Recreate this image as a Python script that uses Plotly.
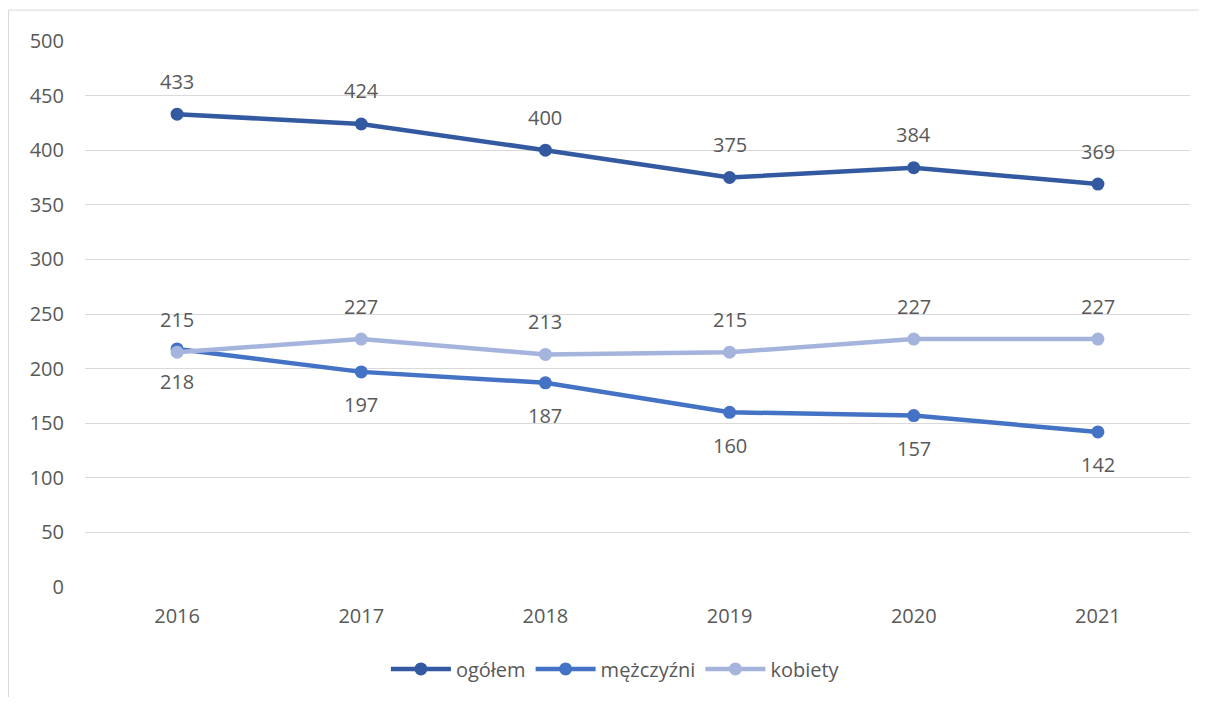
import plotly.graph_objects as go

years = ["2016", "2017", "2018", "2019", "2020", "2021"]
ogolem = [433, 424, 400, 375, 384, 369]
mezczyzni = [218, 197, 187, 160, 157, 142]
kobiety = [215, 227, 213, 215, 227, 227]

series = [
    ("ogółem", ogolem, "#335AA1", 33),
    ("mężczyźni", mezczyzni, "#4472C4", -33),
    ("kobiety", kobiety, "#A5B4DD", 33),
]

font_family = "Open Sans, Liberation Sans, sans-serif"
text_color = "#595959"
fs = 20

W, H = 1191, 689
L, R, T, B = 77, 9, 33, 108
pw, ph = W - L - R, H - T - B

fig = go.Figure()
annotations = []
for name, vals, color, shift in series:
    fig.add_trace(go.Scatter(
        x=years, y=vals, name=name, mode="lines+markers",
        line=dict(color=color, width=4.5),
        marker=dict(color=color, size=13),
    ))
    for i, v in enumerate(vals):
        annotations.append(dict(
            x=i, y=v, xref="x", yref="y", text=str(v), showarrow=False, yshift=shift,
            font=dict(size=fs, color=text_color, family=font_family),
        ))

x_left = (0.5 - L) / pw
y_top = (H - 2 - B) / ph
fig.update_layout(
    width=W, height=H,
    margin=dict(l=L, r=R, t=T, b=B),
    paper_bgcolor="white", plot_bgcolor="white",
    font=dict(family=font_family, color=text_color, size=fs),
    showlegend=True,
    legend=dict(orientation="h", x=0.48, xanchor="center", y=-0.15, yanchor="middle",
                font=dict(size=fs, color=text_color), itemwidth=60,
                tracegroupgap=0),
    annotations=annotations,
    xaxis=dict(type="category", range=[-0.5, 5.5], showgrid=False, zeroline=False,
               showline=False, ticks="", ticklabelstandoff=15,
               tickfont=dict(size=fs, color=text_color)),
    yaxis=dict(range=[0, 500], dtick=50, showgrid=True, gridcolor="#D9D9D9", gridwidth=1,
               zeroline=False, showline=False, ticks="", ticklabelstandoff=20,
               tickfont=dict(size=fs, color=text_color)),
    shapes=[
        dict(type="line", xref="paper", yref="paper", x0=x_left, x1=x_left,
             y0=-(B + 20) / ph, y1=y_top, line=dict(color="#D9D9D9", width=1), layer="below"),
        dict(type="line", xref="paper", yref="paper", x0=x_left, x1=(W + 20 - L) / pw,
             y0=y_top, y1=y_top, line=dict(color="#D9D9D9", width=1), layer="below"),
    ],
)

fig.write_html("out.html")
